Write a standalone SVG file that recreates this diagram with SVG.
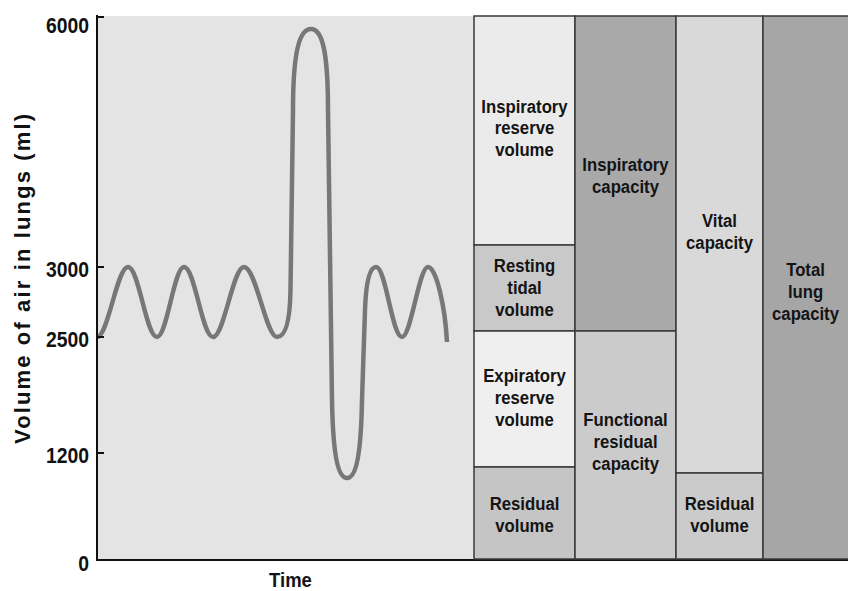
<svg xmlns="http://www.w3.org/2000/svg" width="848" height="591" viewBox="0 0 848 591">
<style>
.lbl{font-family:"Liberation Sans",Arial,sans-serif;font-weight:bold;font-size:19px;fill:#141414;text-anchor:middle}
.ax{font-family:"Liberation Sans",Arial,sans-serif;font-weight:bold;font-size:22px;fill:#111;text-anchor:end}
.seg{stroke:#3a3a3a;stroke-width:1.5}
.tick{stroke:#111;stroke-width:2}
</style>
<rect x="0" y="0" width="848" height="591" fill="#ffffff"/>
<g id="plot">
<rect x="97" y="16" width="377" height="543" fill="#e4e4e4"/>
<path d="M97,337 C108,337 117,267 128,267 C139,267 146,337 157,337 C167,337 174,267 184,267 C195,267 202,337 213,337 C224,337 233,267 244,267 C256,267 266,337 277,337 C286,337 290,320 290.5,290 L293,110 C293,50 300,29 311,29 C322,29 328,50 328,110 L332,400 C333,455 338,478 347,478 C356,478 361,455 362,400 L365,310 C366,280 370,267 376,267 C386,267 392,337 402,337 C411,337 419,267 428,267 C436,267 445,305 447,342" fill="none" stroke="#777777" stroke-width="4.5"/>
<line x1="97" y1="15" x2="97" y2="560" class="tick"/>
<line x1="96" y1="560" x2="848" y2="560" class="tick"/>
<line x1="97" y1="17" x2="104" y2="17" class="tick"/>
<line x1="97" y1="267" x2="104" y2="267" class="tick"/>
<line x1="97" y1="337" x2="104" y2="337" class="tick"/>
<line x1="97" y1="453" x2="104" y2="453" class="tick"/>
<g transform="translate(89,0) scale(0.88,1)">
<text class="ax" x="0" y="33">6000</text>
<text class="ax" x="0" y="277">3000</text>
<text class="ax" x="0" y="347">2500</text>
<text class="ax" x="0" y="463">1200</text>
<text class="ax" x="0" y="571">0</text>
</g>
<text font-family="Liberation Sans,Arial,sans-serif" font-weight="bold" font-size="22" fill="#111" text-anchor="middle" textLength="330" lengthAdjust="spacing" transform="translate(30,279) rotate(-90)">Volume of air in lungs (ml)</text>
<g transform="translate(290.5,0) scale(0.88,1)">
<text class="lbl" x="0" y="587" style="font-size:21px">Time</text>
</g>
</g>
<g id="irv">
<rect class="seg" x="474" y="16" width="101" height="229" fill="#ebebeb"/>
<g transform="translate(524.5,0) scale(0.88,1)">
<text class="lbl" x="0" y="113">Inspiratory</text>
<text class="lbl" x="0" y="134.5">reserve</text>
<text class="lbl" x="0" y="156">volume</text>
</g>
</g>
<g id="rtv">
<rect class="seg" x="474" y="245" width="101" height="86" fill="#c9c9c9"/>
<g transform="translate(524.5,0) scale(0.88,1)">
<text class="lbl" x="0" y="272">Resting</text>
<text class="lbl" x="0" y="294">tidal</text>
<text class="lbl" x="0" y="316">volume</text>
</g>
</g>
<g id="erv">
<rect class="seg" x="474" y="331" width="101" height="136" fill="#efefef"/>
<g transform="translate(524.5,0) scale(0.88,1)">
<text class="lbl" x="0" y="382">Expiratory</text>
<text class="lbl" x="0" y="404">reserve</text>
<text class="lbl" x="0" y="426">volume</text>
</g>
</g>
<g id="rv1">
<rect class="seg" x="474" y="467" width="101" height="92" fill="#c5c5c5"/>
<g transform="translate(524.5,0) scale(0.88,1)">
<text class="lbl" x="0" y="510">Residual</text>
<text class="lbl" x="0" y="532">volume</text>
</g>
</g>
<g id="ic">
<rect class="seg" x="575" y="16" width="101" height="315" fill="#a9a9a9"/>
<g transform="translate(625.5,0) scale(0.88,1)">
<text class="lbl" x="0" y="171">Inspiratory</text>
<text class="lbl" x="0" y="193">capacity</text>
</g>
</g>
<g id="frc">
<rect class="seg" x="575" y="331" width="101" height="228" fill="#cbcbcb"/>
<g transform="translate(625.5,0) scale(0.88,1)">
<text class="lbl" x="0" y="426">Functional</text>
<text class="lbl" x="0" y="448">residual</text>
<text class="lbl" x="0" y="470">capacity</text>
</g>
</g>
<g id="vc">
<rect class="seg" x="676" y="16" width="87" height="457" fill="#d9d9d9"/>
<g transform="translate(719.5,0) scale(0.88,1)">
<text class="lbl" x="0" y="227">Vital</text>
<text class="lbl" x="0" y="249">capacity</text>
</g>
</g>
<g id="rv2">
<rect class="seg" x="676" y="473" width="87" height="86" fill="#cbcbcb"/>
<g transform="translate(719.5,0) scale(0.88,1)">
<text class="lbl" x="0" y="510">Residual</text>
<text class="lbl" x="0" y="532">volume</text>
</g>
</g>
<g id="tlc">
<rect class="seg" x="763" y="16" width="86" height="543" fill="#a6a6a6"/>
<g transform="translate(805.5,0) scale(0.88,1)">
<text class="lbl" x="0" y="276">Total</text>
<text class="lbl" x="0" y="298">lung</text>
<text class="lbl" x="0" y="320">capacity</text>
</g>
</g>
<g id="connectors"></g>
</svg>
